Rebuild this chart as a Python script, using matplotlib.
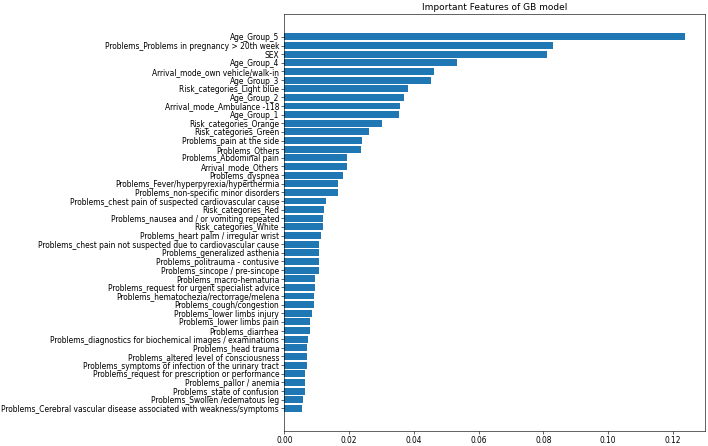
import matplotlib
matplotlib.use("Agg")
import matplotlib.pyplot as plt

features = [
    "Age_Group_5",
    "Problems_Problems in pregnancy > 20th week",
    "SEX",
    "Age_Group_4",
    "Arrival_mode_own vehicle/walk-in",
    "Age_Group_3",
    "Risk_categories_Light blue",
    "Age_Group_2",
    "Arrival_mode_Ambulance -118",
    "Age_Group_1",
    "Risk_categories_Orange",
    "Risk_categories_Green",
    "Problems_pain at the side",
    "Problems_Others",
    "Problems_Abdominal pain",
    "Arrival_mode_Others",
    "Problems_dyspnea",
    "Problems_Fever/hyperpyrexia/hyperthermia",
    "Problems_non-specific minor disorders",
    "Problems_chest pain of suspected cardiovascular cause",
    "Risk_categories_Red",
    "Problems_nausea and / or vomiting repeated",
    "Risk_categories_White",
    "Problems_heart palm / irregular wrist",
    "Problems_chest pain not suspected due to cardiovascular cause",
    "Problems_generalized asthenia",
    "Problems_politrauma - contusive",
    "Problems_sincope / pre-sincope",
    "Problems_macro-hematuria",
    "Problems_request for urgent specialist advice",
    "Problems_hematochezia/rectorrage/melena",
    "Problems_cough/congestion",
    "Problems_lower limbs injury",
    "Problems_lower limbs pain",
    "Problems_diarrhea",
    "Problems_diagnostics for biochemical images / examinations",
    "Problems_head trauma",
    "Problems_altered level of consciousness",
    "Problems_symptoms of infection of the urinary tract",
    "Problems_request for prescription or performance",
    "Problems_pallor / anemia",
    "Problems_state of confusion",
    "Problems_Swollen /edematous leg",
    "Problems_Cerebral vascular disease associated with weakness/symptoms",
]

importance = [
    0.1239, 0.0829, 0.0812, 0.0534, 0.0462, 0.0453, 0.0383, 0.0368, 0.0357, 0.0353,
    0.0301, 0.0261, 0.0240, 0.0238, 0.0194, 0.0194, 0.0180, 0.0166, 0.0164, 0.0128,
    0.0122, 0.0120, 0.0118, 0.0113, 0.0108, 0.0108, 0.0106, 0.0106, 0.0095, 0.0095,
    0.0090, 0.0090, 0.0086, 0.0080, 0.0080, 0.0074, 0.0071, 0.0071, 0.0069, 0.0064,
    0.0064, 0.0062, 0.0058, 0.0055,
]

fig = plt.figure(figsize=(708 / 54, 446 / 54), dpi=54)
ax = fig.add_axes([0.4018, 0.0343, 0.5944, 0.9332])

pos = list(range(len(features)))
ax.barh(pos, importance, color="#1f77b4")
ax.set_yticks(pos)
ax.set_yticklabels(features)
ax.invert_yaxis()
ax.set_title("Important Features of GB model")

fig.savefig("out.png", dpi=54)
